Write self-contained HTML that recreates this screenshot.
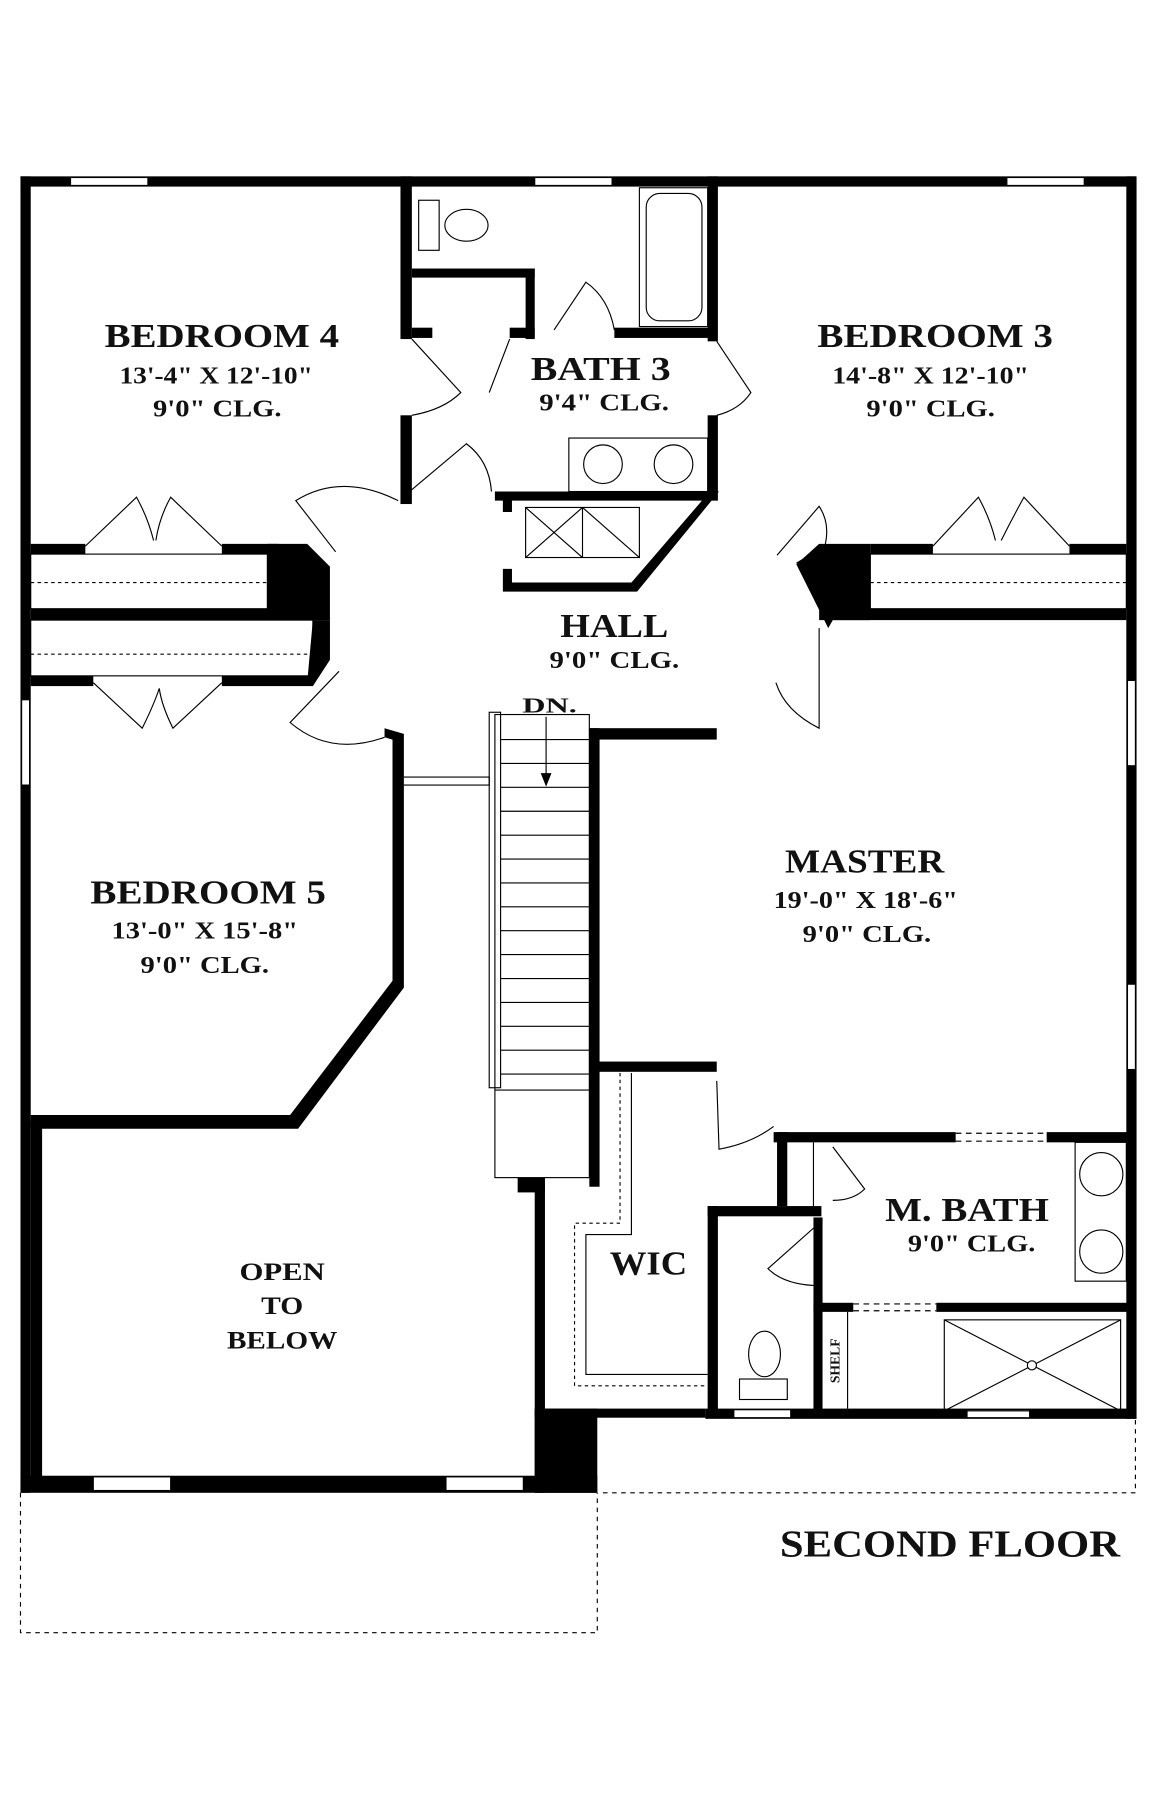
<!DOCTYPE html>
<html><head><meta charset="utf-8"><style>
html,body{margin:0;padding:0;background:#fff}
svg{display:block}
text{font-family:"Liberation Serif",serif;font-weight:bold;fill:#111;text-anchor:middle}
</style></head><body>
<svg width="1165" height="1800" viewBox="0 0 1024 1582" preserveAspectRatio="none" xmlns="http://www.w3.org/2000/svg">
<g fill="#000">
<rect x="18" y="155" width="980" height="9"/>
<rect x="18" y="155" width="9" height="1157"/>
<rect x="990" y="155" width="9" height="1092"/>
<rect x="18" y="1297" width="507" height="15"/>
<rect x="27" y="985" width="10" height="320"/>
<rect x="620" y="1238" width="378" height="9"/>
<rect x="470" y="1238" width="150" height="8"/>
<rect x="470" y="1040" width="9" height="272"/>
<rect x="470" y="1238" width="55" height="74"/>
<rect x="455" y="1035" width="24" height="13"/>
<rect x="352" y="155" width="10" height="143"/>
<rect x="352" y="365" width="10" height="78"/>
<rect x="362" y="236" width="108" height="8"/>
<rect x="462" y="236" width="8" height="62"/>
<rect x="362" y="288" width="18" height="9"/>
<rect x="448" y="288" width="22" height="9"/>
<rect x="540" y="288" width="90" height="9"/>
<rect x="622" y="155" width="9" height="145"/>
<rect x="622" y="365" width="9" height="75"/>
<path d="M435 432 L632 432 L560 520 L442 520 L442 500 L450 500 L450 512 L555 512 L617 440 L450 440 L450 450 L442 450 L442 440 L435 440Z"/>
<rect x="27" y="478" width="48" height="9"/>
<rect x="195" y="478" width="50" height="9"/>
<rect x="27" y="535" width="262" height="10"/>
<path d="M235 478 L270 478 L290 498 L290 545 L235 545Z"/>
<rect x="27" y="594" width="55" height="9"/>
<rect x="195" y="594" width="80" height="9"/>
<path d="M275 545 L290 545 L290 580 L275 603 L270 600Z"/>
<rect x="765" y="478" width="55" height="9"/>
<rect x="940" y="478" width="50" height="9"/>
<rect x="720" y="535" width="270" height="10"/>
<path d="M700 496 L720 478 L765 478 L765 545 L732 545 L728 552 Z"/>
<rect x="518" y="640" width="112" height="10"/>
<rect x="518" y="640" width="9" height="300"/>
<rect x="518" y="933" width="112" height="9"/>
<rect x="518" y="933" width="9" height="110"/>
<path d="M338 640 L355 645 L355 868 L262 992 L27 992 L27 980 L255 980 L345 862 L345 650 L338 648Z"/>
<rect x="680" y="995" width="160" height="9"/>
<rect x="920" y="995" width="78" height="9"/>
<rect x="683" y="995" width="9" height="65"/>
<rect x="622" y="1060" width="100" height="9"/>
<rect x="622" y="1060" width="9" height="185"/>
<rect x="715" y="1070" width="8" height="175"/>
<rect x="715" y="1145" width="35" height="8"/>
<rect x="823" y="1145" width="175" height="8"/>
</g>
<g fill="none" stroke="#000" stroke-width="1">
<rect x="62" y="156" width="68" height="7" fill="#fff"/>
<rect x="470" y="156" width="68" height="7" fill="#fff"/>
<rect x="885" y="156" width="68" height="7" fill="#fff"/>
<rect x="19" y="615" width="7" height="75" fill="#fff"/>
<rect x="991" y="598" width="7" height="75" fill="#fff"/>
<rect x="991" y="865" width="7" height="75" fill="#fff"/>
<rect x="82" y="1298" width="68" height="12" fill="#fff"/>
<rect x="392" y="1298" width="68" height="12" fill="#fff"/>
<rect x="645" y="1239" width="50" height="7" fill="#fff"/>
<rect x="850" y="1239" width="55" height="7" fill="#fff"/>
<rect x="368" y="176" width="18" height="44"/>
<ellipse cx="410" cy="198" rx="19" ry="14"/>
<rect x="562" y="165" width="60" height="122"/>
<rect x="568" y="170" width="49" height="112" rx="12"/>
<rect x="500" y="385" width="122" height="47"/>
<circle cx="530" cy="408" r="17"/><circle cx="592" cy="408" r="17"/>
<rect x="462" y="446" width="100" height="44"/>
<line x1="512" y1="446" x2="512" y2="490"/>
<line x1="462" y1="446" x2="512" y2="490"/><line x1="512" y1="446" x2="462" y2="490"/>
<line x1="512" y1="446" x2="562" y2="490"/>
<rect x="27" y="487" width="208" height="48"/>
<line x1="27" y1="512" x2="235" y2="512" stroke-dasharray="3 3"/>
<rect x="27" y="545" width="248" height="49"/>
<line x1="27" y1="575" x2="275" y2="575" stroke-dasharray="3 3"/>
<rect x="765" y="487" width="225" height="48"/>
<line x1="765" y1="512" x2="990" y2="512" stroke-dasharray="3 3"/>
<path d="M75 480 L120 437 Q130 455 135 475 M195 480 L150 437 Q140 455 137 475"/>
<path d="M82 600 L125 640 Q135 620 140 605 M195 600 L152 640 Q142 620 140 605"/>
<path d="M820 480 L860 437 Q870 455 875 475 M940 480 L900 437 Q890 455 880 475"/>
<path d="M362 298 L405 345 Q390 360 362 365"/>
<path d="M448 298 L430 345"/>
<path d="M487 290 L515 248 Q535 262 540 290"/>
<path d="M630 300 L660 345 Q650 360 630 365"/>
<path d="M360 432 L410 390 Q430 405 432 432"/>
<path d="M295 485 L260 440 Q300 415 350 440"/>
<path d="M298 590 L255 635 Q290 665 338 648"/>
<path d="M683 488 L720 445 Q730 460 725 480 L700 495"/>
<path d="M720 552 L720 640 Q690 625 682 600"/>
<path d="M630 950 L632 1010 Q660 1005 680 990"/>
<path d="M732 1008 L760 1045 Q750 1055 732 1055"/>
<path d="M720 1075 L675 1115 Q690 1130 722 1130"/>
<rect x="435" y="628" width="83" height="407"/>
<rect x="430" y="626" width="10" height="330"/>
<line x1="440" y1="650" x2="518" y2="650"/>
<line x1="440" y1="671" x2="518" y2="671"/>
<line x1="440" y1="692" x2="518" y2="692"/>
<line x1="440" y1="713" x2="518" y2="713"/>
<line x1="440" y1="734" x2="518" y2="734"/>
<line x1="440" y1="755" x2="518" y2="755"/>
<line x1="440" y1="776" x2="518" y2="776"/>
<line x1="440" y1="797" x2="518" y2="797"/>
<line x1="440" y1="818" x2="518" y2="818"/>
<line x1="440" y1="839" x2="518" y2="839"/>
<line x1="440" y1="860" x2="518" y2="860"/>
<line x1="440" y1="881" x2="518" y2="881"/>
<line x1="440" y1="902" x2="518" y2="902"/>
<line x1="440" y1="923" x2="518" y2="923"/>
<line x1="440" y1="944" x2="518" y2="944"/>
<line x1="435" y1="958" x2="518" y2="958"/>
<line x1="480" y1="630" x2="480" y2="688"/>
<path d="M476 680 L480 690 L484 680Z" fill="#000"/>
<path d="M355 683 L430 683 L430 690 L355 690"/>
<path d="M545 943 L545 1075 L505 1075 L505 1218 L622 1218" stroke-dasharray="3 3"/>
<path d="M555 943 L555 1085 L515 1085 L515 1208 L622 1208"/>
<line x1="840" y1="996" x2="920" y2="996" stroke-dasharray="5 4"/>
<line x1="840" y1="1003" x2="920" y2="1003" stroke-dasharray="5 4"/>
<line x1="750" y1="1146" x2="823" y2="1146" stroke-dasharray="5 4"/>
<line x1="750" y1="1152" x2="823" y2="1152" stroke-dasharray="5 4"/>
<line x1="715" y1="1004" x2="715" y2="1060"/>
<rect x="945" y="1004" width="45" height="122"/>
<circle cx="968" cy="1032" r="19"/><circle cx="968" cy="1100" r="19"/>
<rect x="830" y="1160" width="155" height="80"/>
<line x1="830" y1="1160" x2="985" y2="1240"/><line x1="985" y1="1160" x2="830" y2="1240"/>
<circle cx="907" cy="1200" r="4" fill="#fff"/>
<line x1="745" y1="1153" x2="745" y2="1238"/>
<ellipse cx="672" cy="1190" rx="14" ry="20"/>
<rect x="650" y="1212" width="42" height="18"/>
<path d="M18 1312 L18 1435 L525 1435 L525 1312" stroke-dasharray="4 4"/>
<path d="M530 1312 L998 1312 L998 1247" stroke-dasharray="4 4"/>
</g>
<g lengthAdjust="spacingAndGlyphs">
<text x="195" y="305" font-size="30" textLength="206" lengthAdjust="spacingAndGlyphs">BEDROOM 4</text>
<text x="190" y="337" font-size="21" textLength="170" lengthAdjust="spacingAndGlyphs">13'-4" X 12'-10"</text>
<text x="191" y="366" font-size="21" textLength="113" lengthAdjust="spacingAndGlyphs">9'0" CLG.</text>
<text x="528" y="334" font-size="30" textLength="123" lengthAdjust="spacingAndGlyphs">BATH 3</text>
<text x="531" y="361" font-size="21" textLength="114" lengthAdjust="spacingAndGlyphs">9'4" CLG.</text>
<text x="822" y="305" font-size="30" textLength="207" lengthAdjust="spacingAndGlyphs">BEDROOM 3</text>
<text x="818" y="337" font-size="21" textLength="173" lengthAdjust="spacingAndGlyphs">14'-8" X 12'-10"</text>
<text x="818" y="366" font-size="21" textLength="113" lengthAdjust="spacingAndGlyphs">9'0" CLG.</text>
<text x="540" y="560" font-size="30" textLength="95" lengthAdjust="spacingAndGlyphs">HALL</text>
<text x="540" y="587" font-size="21" textLength="114" lengthAdjust="spacingAndGlyphs">9'0" CLG.</text>
<text x="483" y="626" font-size="19" textLength="48" lengthAdjust="spacingAndGlyphs">DN.</text>
<text x="760" y="767" font-size="30" textLength="140" lengthAdjust="spacingAndGlyphs">MASTER</text>
<text x="761" y="798" font-size="21" textLength="162" lengthAdjust="spacingAndGlyphs">19'-0" X 18'-6"</text>
<text x="762" y="828" font-size="21" textLength="113" lengthAdjust="spacingAndGlyphs">9'0" CLG.</text>
<text x="183" y="794" font-size="30" textLength="207" lengthAdjust="spacingAndGlyphs">BEDROOM 5</text>
<text x="180" y="825" font-size="21" textLength="164" lengthAdjust="spacingAndGlyphs">13'-0" X 15'-8"</text>
<text x="180" y="855" font-size="21" textLength="113" lengthAdjust="spacingAndGlyphs">9'0" CLG.</text>
<text x="248" y="1125" font-size="22" textLength="75" lengthAdjust="spacingAndGlyphs">OPEN</text>
<text x="248" y="1155" font-size="22" textLength="37" lengthAdjust="spacingAndGlyphs">TO</text>
<text x="248" y="1185" font-size="22" textLength="97" lengthAdjust="spacingAndGlyphs">BELOW</text>
<text x="570" y="1120" font-size="30" textLength="68" lengthAdjust="spacingAndGlyphs">WIC</text>
<text x="850" y="1073" font-size="30" textLength="144" lengthAdjust="spacingAndGlyphs">M. BATH</text>
<text x="854" y="1100" font-size="21" textLength="112" lengthAdjust="spacingAndGlyphs">9'0" CLG.</text>
<text x="0" y="0" font-size="12" transform="translate(738 1196) rotate(-90)">SHELF</text>
<text x="835" y="1368" font-size="33" textLength="299" lengthAdjust="spacingAndGlyphs">SECOND FLOOR</text>
</g>
</svg>
</body></html>
